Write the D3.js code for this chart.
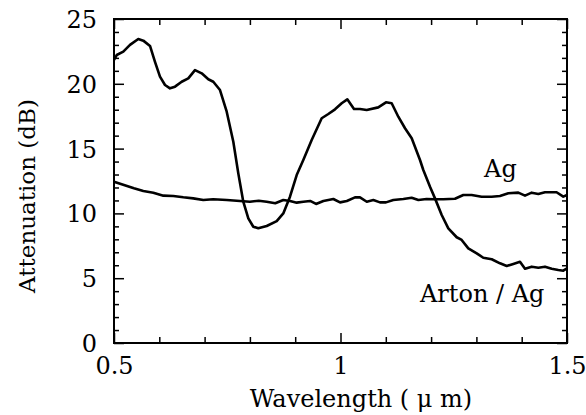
<!DOCTYPE html>
<html><head><meta charset="utf-8">
<script src="https://cdn.jsdelivr.net/npm/d3@7"></script>
<style>body{margin:0;background:#fff}svg{display:block}text{font-family:"DejaVu Serif",serif;fill:#000}</style>
</head><body>
<script>
const artonX = [0.5,0.506,0.5205,0.5353,0.5536,0.5647,0.5795,0.5905,0.6015,0.6126,0.6236,0.6347,0.6494,0.664,0.6788,0.6936,0.7082,0.7192,0.734,0.7488,0.7634,0.7744,0.7854,0.7965,0.8075,0.8185,0.8371,0.8592,0.8737,0.8885,0.9033,0.9179,0.9364,0.9585,0.9731,0.9879,1.0026,1.015,1.0298,1.043,1.0578,1.0834,1.1004,1.113,1.1276,1.1424,1.1572,1.1755,1.1828,1.1976,1.2086,1.2234,1.238,1.2565,1.2675,1.2821,1.3007,1.3152,1.3338,1.3521,1.3669,1.3815,1.3962,1.4073,1.4221,1.4367,1.4514,1.4662,1.4808,1.4918,1.5];
const artonY = [21.84,22.22,22.48,23.0,23.46,23.33,22.92,21.7,20.55,19.91,19.65,19.78,20.16,20.42,21.06,20.81,20.35,20.16,19.52,17.85,15.53,13.09,10.9,9.62,8.97,8.85,9.03,9.41,10.0,11.29,12.96,14.12,15.66,17.34,17.67,18.03,18.5,18.8,18.06,18.06,17.98,18.18,18.57,18.5,17.46,16.57,15.8,14.12,13.35,12.06,11.16,9.88,8.85,8.16,7.95,7.3,6.92,6.58,6.46,6.15,5.94,6.1,6.27,5.73,5.89,5.81,5.89,5.73,5.63,5.58,5.76];
const agX = [0.5,0.522,0.544,0.5647,0.5868,0.609,0.631,0.653,0.675,0.697,0.719,0.749,0.778,0.8,0.8196,0.837,0.856,0.8737,0.8885,0.9033,0.918,0.933,0.946,0.9622,0.9842,0.999,1.014,1.032,1.043,1.058,1.0725,1.0872,1.1004,1.1166,1.1387,1.157,1.1719,1.19,1.2086,1.227,1.2527,1.2711,1.2895,1.3116,1.3337,1.352,1.3705,1.3925,1.4073,1.422,1.4367,1.4514,1.477,1.4918,1.5];
const agY = [12.45,12.19,11.94,11.73,11.6,11.37,11.34,11.24,11.16,11.03,11.09,11.03,10.96,10.9,10.98,10.9,10.78,11.03,10.96,10.83,10.9,10.96,10.73,10.96,11.11,10.85,10.96,11.24,11.24,10.9,11.03,10.85,10.85,11.03,11.11,11.21,11.03,11.11,11.09,11.09,11.13,11.42,11.42,11.29,11.29,11.34,11.55,11.6,11.37,11.6,11.5,11.63,11.63,11.29,11.42];
const xMajor = [0.5,1,1.5];
const xMinor = [0.6,0.7,0.8,0.9,1.1,1.2,1.3,1.4];
const yMajor = [0,5,10,15,20,25];
const yMinor = [1,2,3,4,6,7,8,9,11,12,13,14,16,17,18,19,21,22,23,24];
const xLabel = "Wavelength ( μ m)";
const yLabel = "Attenuation (dB)";
const seriesLabels = ["Ag","Arton / Ag"];

const W=586,H=415, m={l:114,t:19,r:19,b:72};
const svg=d3.select("body").append("svg").attr("width",W).attr("height",H);
const x=d3.scaleLinear().domain([0.5,1.5]).range([m.l,W-m.r]);
const y=d3.scaleLinear().domain([0,25]).range([H-m.b,m.t]);
const fs=24;

const line=d3.line().x(d=>x(d[0])).y(d=>y(d[1]));
function draw(xs,ys){
  svg.append("path").datum(xs.map((v,i)=>[v,ys[i]])).attr("d",line)
    .attr("fill","none").attr("stroke","#000").attr("stroke-width",2.6).attr("stroke-linejoin","round");
}
draw(agX,agY); draw(artonX,artonY);

function axis(gen,scale,vals,len,pos,fmt){
  const g=svg.append("g").attr("transform",pos)
    .call(gen(scale).tickValues(vals).tickSize(len).tickFormat(fmt||""));
  g.select(".domain").remove();
  g.selectAll("line").attr("stroke","#000").attr("stroke-width",1.5);
  return g;
}
const pBottom=H-m.b, pTop=m.t, pLeft=m.l, pRight=W-m.r;
const gb=axis(d3.axisTop,x,xMajor,10,`translate(0,${pBottom})`,d3.format("~g"));
gb.selectAll("text").attr("y",14).attr("dy","0.71em").attr("font-size",fs);
axis(d3.axisTop,x,xMinor,6,`translate(0,${pBottom})`);
axis(d3.axisBottom,x,xMajor,10,`translate(0,${pTop})`);
axis(d3.axisBottom,x,xMinor,6,`translate(0,${pTop})`);
const gl=axis(d3.axisRight,y,yMajor,10,`translate(${pLeft},0)`,d3.format("~g"));
gl.selectAll("text").attr("x",-17).attr("text-anchor","end").attr("dy","0.35em").attr("font-size",fs);
axis(d3.axisRight,y,yMinor,5,`translate(${pLeft},0)`);
axis(d3.axisLeft,y,yMajor,10,`translate(${pRight},0)`);
axis(d3.axisLeft,y,yMinor,5,`translate(${pRight},0)`);

svg.append("rect").attr("x",pLeft).attr("y",pTop).attr("width",pRight-pLeft).attr("height",pBottom-pTop)
  .attr("fill","none").attr("stroke","#000").attr("stroke-width",2);

svg.append("text").attr("x",361).attr("y",407).attr("text-anchor","middle").attr("font-size",fs).text(xLabel);
svg.append("text").attr("transform","translate(35,196) rotate(-90)").attr("text-anchor","middle").attr("font-size",23).text(yLabel);
svg.append("text").attr("x",x(1.317)).attr("y",y(12.8)).attr("font-size",fs).text(seriesLabels[0]);
svg.append("text").attr("x",x(1.1755)).attr("y",y(3.2)).attr("font-size",fs).text(seriesLabels[1]);
</script>
</body></html>
